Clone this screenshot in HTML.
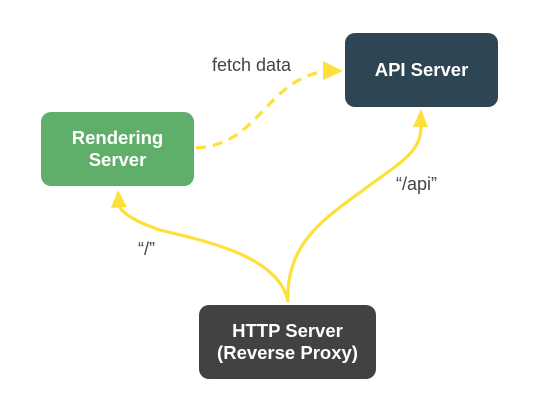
<!DOCTYPE html>
<html><head><style>
body{margin:0;background:#fff;width:533px;height:411px;overflow:hidden;font-family:"Liberation Sans",Arial,sans-serif;}
.b{position:absolute;border-radius:10px;color:#fff;font-weight:bold;font-size:18.5px;display:flex;align-items:center;justify-content:center;text-align:center;line-height:22px;}
.l{position:absolute;color:#444;font-size:18px;}
</style></head><body>
<svg width="533" height="411" style="position:absolute;left:0;top:0">
<g fill="none" stroke="#fde03a" stroke-width="3.2">
<path d="M196,148 C260,145 265,80 326,71" stroke-dasharray="10,7"/>
<path d="M288,302 C285,240 330,215 370,185 C405,160 421,150 421,126"/>
<path d="M288,302 C280,255 200,240 160,230 C130,220 120,210 119,205"/>
</g>
<path d="M323,61 L343,71 L323,80z" fill="#fde03a"/>
<path d="M413,127 L421,109 L428,127z" fill="#fde03a"/>
<path d="M111,208 L118,190 L127,207z" fill="#fde03a"/>
</svg>
<div class="b" style="left:345px;top:33px;width:153px;height:74px;background:#2e4553">API Server</div>
<div class="b" style="left:41px;top:112px;width:153px;height:74px;background:#5faf6b">Rendering<br>Server</div>
<div class="b" style="left:199px;top:305px;width:177px;height:74px;background:#444142">HTTP Server<br>(Reverse Proxy)</div>
<div class="l" style="left:212px;top:55px">fetch data</div>
<div class="l" style="left:396px;top:174px">“/api”</div>
<div class="l" style="left:138px;top:239px">“/”</div>
</body></html>
